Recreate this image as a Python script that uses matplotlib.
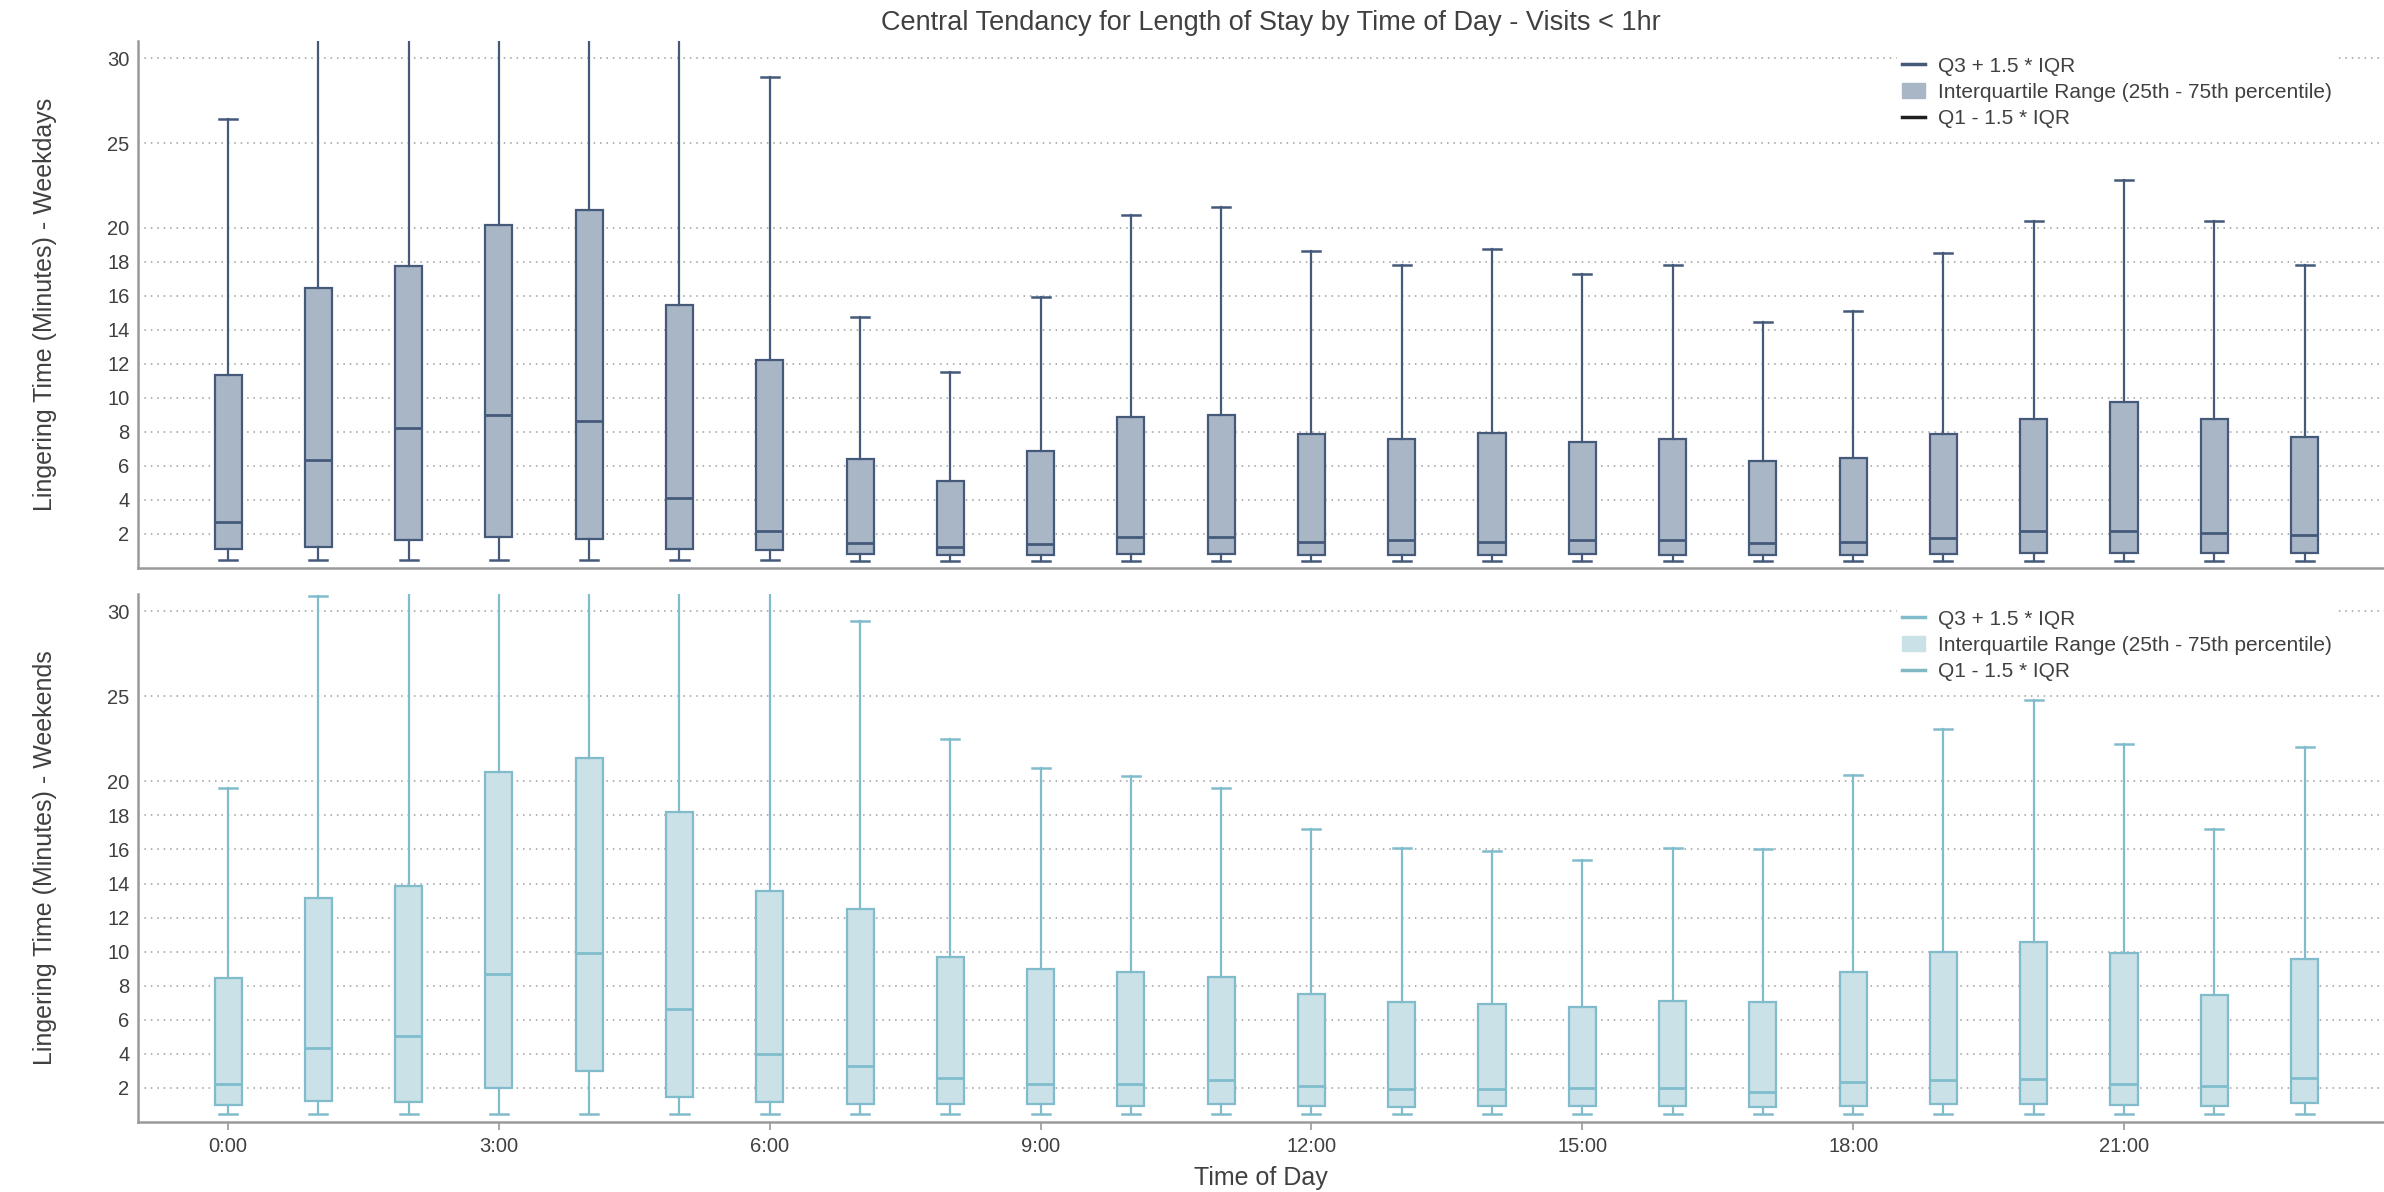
import matplotlib
matplotlib.use("Agg")
import matplotlib.pyplot as plt
from matplotlib.lines import Line2D
from matplotlib.patches import Patch

plt.rcParams['font.family'] = ['Liberation Sans', 'DejaVu Sans']

hours = list(range(24))
hour_ticks = [0, 3, 6, 9, 12, 15, 18, 21]
hour_labels = ["0:00", "3:00", "6:00", "9:00", "12:00", "15:00", "18:00", "21:00"]
y_ticks = [2, 4, 6, 8, 10, 12, 14, 16, 18, 20, 25, 30]

# Weekday length-of-stay summary (minutes) per hour of day
wd_q1 = [1.12, 1.24, 1.64, 1.80, 1.73, 1.12, 1.06, 0.82, 0.75, 0.75, 0.82, 0.82,
         0.75, 0.75, 0.75, 0.82, 0.75, 0.75, 0.75, 0.82, 0.89, 0.89, 0.89, 0.89]
wd_med = [2.72, 6.34, 8.22, 8.99, 8.65, 4.13, 2.16, 1.48, 1.22, 1.44, 1.82, 1.82,
          1.55, 1.66, 1.55, 1.66, 1.66, 1.48, 1.55, 1.77, 2.15, 2.15, 2.04, 1.93]
wd_q3 = [11.33, 16.47, 17.78, 20.16, 21.08, 15.46, 12.22, 6.40, 5.09, 6.86, 8.86, 8.99,
         7.90, 7.57, 7.97, 7.42, 7.57, 6.27, 6.49, 7.90, 8.74, 9.74, 8.74, 7.68]
wd_hi = [26.4, 39.3, 42.0, 47.7, 49.1, 37.0, 28.9, 14.77, 11.51, 15.94, 20.77, 21.23,
         18.64, 17.8, 18.77, 17.27, 17.8, 14.46, 15.1, 18.5, 20.43, 22.85, 20.43, 17.8]
wd_lo = [0.46, 0.46, 0.46, 0.46, 0.46, 0.46, 0.46, 0.44, 0.44, 0.44, 0.44, 0.44,
         0.44, 0.44, 0.44, 0.44, 0.44, 0.44, 0.44, 0.44, 0.44, 0.44, 0.44, 0.44]

# Weekend length-of-stay summary (minutes) per hour of day
we_q1 = [0.99, 1.24, 1.19, 2.00, 2.98, 1.49, 1.19, 1.08, 1.08, 1.08, 0.94, 1.08,
         0.94, 0.87, 0.94, 0.94, 0.96, 0.89, 0.94, 1.06, 1.06, 1.01, 0.96, 1.10]
we_med = [2.25, 4.36, 5.07, 8.69, 9.91, 6.61, 4.01, 3.26, 2.61, 2.22, 2.25, 2.48,
          2.13, 1.95, 1.93, 2.02, 2.02, 1.79, 2.36, 2.45, 2.55, 2.25, 2.09, 2.57]
we_q3 = [8.46, 13.17, 13.88, 20.53, 21.38, 18.19, 13.56, 12.50, 9.66, 8.97, 8.78, 8.49,
         7.52, 7.02, 6.93, 6.74, 7.09, 7.02, 8.83, 9.98, 10.57, 9.93, 7.48, 9.56]
we_hi = [19.6, 30.9, 32.9, 48.3, 49.0, 43.2, 32.1, 29.4, 22.5, 20.78, 20.3, 19.6,
         17.2, 16.1, 15.94, 15.39, 16.1, 16.03, 20.37, 23.1, 24.8, 22.2, 17.2, 22.0]
we_lo = [0.48] * 24

TEXT = "#404040"
SPINE = "#9a9a9a"


def draw_panel(ax, q1, med, q3, lo, hi, fill, edge, q1_legend_color, ylabel):
    stats = [dict(q1=a, med=m, q3=b, whislo=l, whishi=h, fliers=[])
             for a, m, b, l, h in zip(q1, med, q3, lo, hi)]
    ax.bxp(stats, positions=hours, widths=0.3, capwidths=0.2,
           patch_artist=True, showfliers=False,
           boxprops=dict(facecolor=fill, edgecolor=edge, linewidth=1.6),
           medianprops=dict(color=edge, linewidth=2.0),
           whiskerprops=dict(color=edge, linewidth=1.6),
           capprops=dict(color=edge, linewidth=1.8))
    ax.set_xlim(-1, 23.88)
    ax.set_ylim(0, 31)
    ax.set_yticks(y_ticks)
    ax.set_yticklabels([str(v) for v in y_ticks])
    ax.yaxis.grid(True, linestyle=(0, (1, 3.2)), color="#9c9c9c", linewidth=1.1)
    ax.set_axisbelow(True)
    for s in ("top", "right"):
        ax.spines[s].set_visible(False)
    for s in ("left", "bottom"):
        ax.spines[s].set_color(SPINE)
        ax.spines[s].set_linewidth(1.8)
    ax.tick_params(axis="y", length=0, pad=6, labelsize=14.5, labelcolor=TEXT)
    ax.set_ylabel(ylabel, fontsize=18, color=TEXT, labelpad=36)
    handles = [Line2D([], [], color=edge, linewidth=2.5),
               Patch(facecolor=fill, edgecolor=fill),
               Line2D([], [], color=q1_legend_color, linewidth=2.5)]
    labels = ["Q3 + 1.5 * IQR", "Interquartile Range (25th - 75th percentile)",
              "Q1 - 1.5 * IQR"]
    leg = ax.legend(handles, labels, loc="upper right", bbox_to_anchor=(0.979, 0.98),
                    borderaxespad=0, frameon=True, fancybox=False, framealpha=1,
                    edgecolor="white", facecolor="white", fontsize=15,
                    handlelength=1.1, handletextpad=0.6, labelspacing=0.34,
                    borderpad=0.25)
    for t in leg.get_texts():
        t.set_color(TEXT)


fig = plt.figure(figsize=(23.84, 11.92), dpi=100)
ax_top = fig.add_axes([0.0578, 0.5235, 0.9422, 0.4421])
ax_bot = fig.add_axes([0.0578, 0.0587, 0.9422, 0.4430])

draw_panel(ax_top, wd_q1, wd_med, wd_q3, wd_lo, wd_hi,
           fill="#a9b6c6", edge="#45597a", q1_legend_color="#1f1f1f",
           ylabel="Lingering Time (Minutes) - Weekdays")
draw_panel(ax_bot, we_q1, we_med, we_q3, we_lo, we_hi,
           fill="#c9e1e7", edge="#80bccb", q1_legend_color="#80b8c4",
           ylabel="Lingering Time (Minutes) - Weekends")

ax_top.set_xticks(hour_ticks)
ax_top.tick_params(axis="x", length=0, labelbottom=False)

ax_bot.set_xticks(hour_ticks)
ax_bot.set_xticklabels(hour_labels)
ax_bot.tick_params(axis="x", length=6, width=1.2, color=SPINE, pad=5,
                   labelsize=14.5, labelcolor=TEXT)
ax_bot.set_xlabel("Time of Day", fontsize=18, color=TEXT, labelpad=7)

fig.text(0.533, 0.981, "Central Tendancy for Length of Stay by Time of Day - Visits < 1hr",
         ha="center", va="center", fontsize=19.5, color=TEXT)

fig.savefig("out.png", dpi=100, facecolor="white")
